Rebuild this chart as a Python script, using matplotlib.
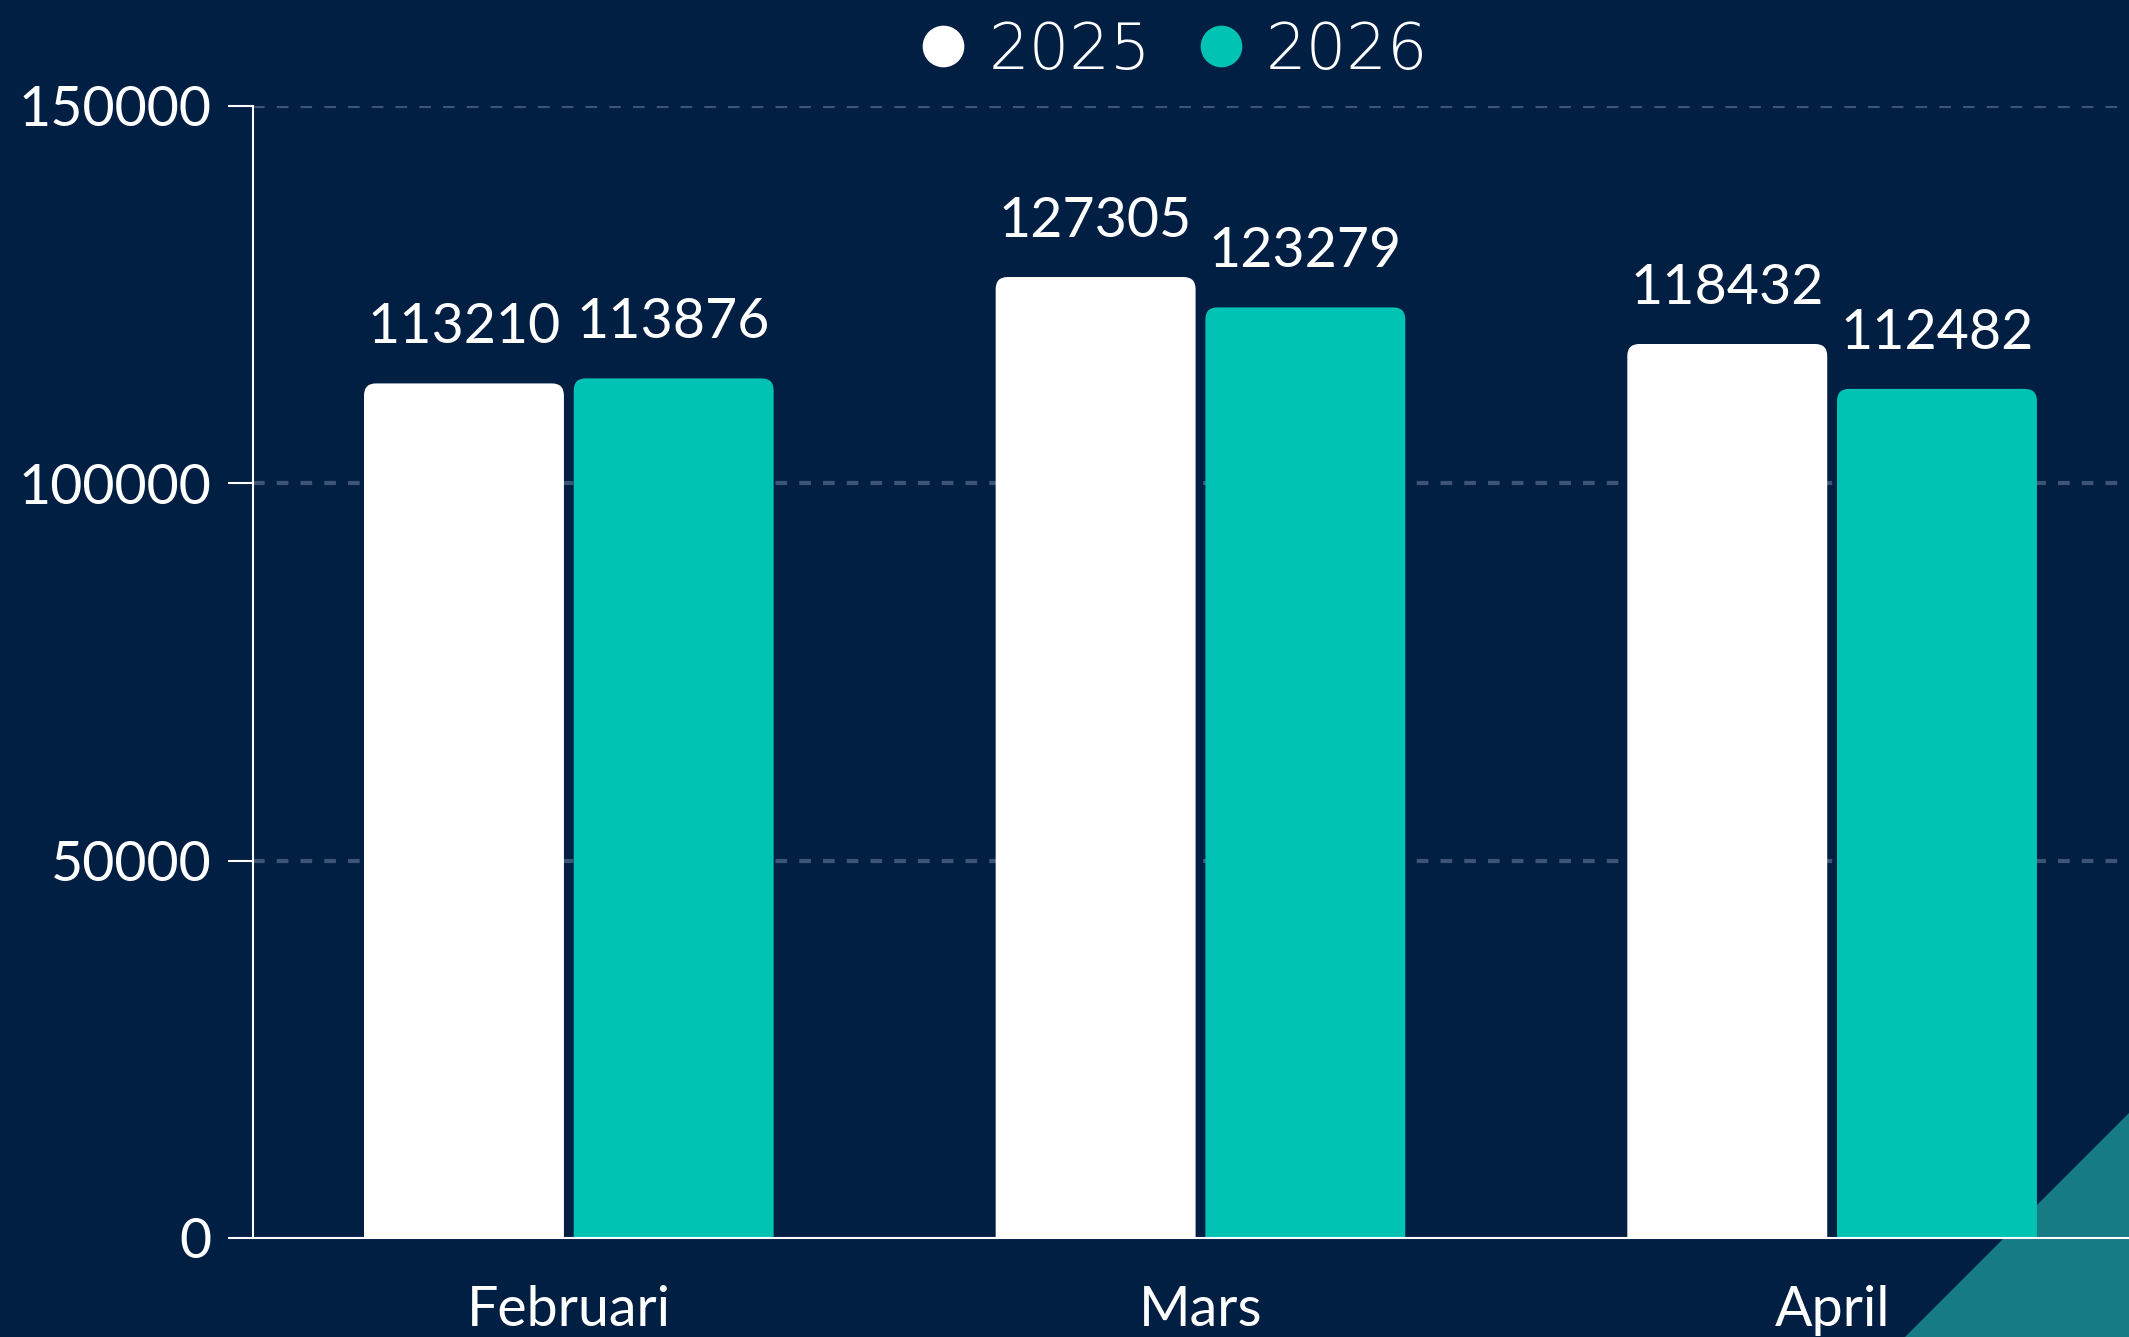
import matplotlib
matplotlib.use("Agg")
import matplotlib.pyplot as plt
import numpy as np
from matplotlib.patches import FancyBboxPatch, Polygon
from matplotlib.lines import Line2D

# Данные
months = ["Februari", "Mars", "April"]
series_names = ["2025", "2026"]
values_2025 = [113210, 127305, 118432]
values_2026 = [113876, 123279, 112482]

# Цвета
bg = "#011e43"
white = "#ffffff"
teal = "#00c3b3"
grid_col = "#3d5476"
corner_col = "#167b85"

plt.rcParams["font.family"] = ["Lato", "DejaVu Sans"]

fig = plt.figure(figsize=(21.29, 13.37), dpi=100, facecolor=bg)
ax = fig.add_axes([253 / 2129, 99 / 1337, 1 - 253 / 2129, 1132.3 / 1337])
ax.set_facecolor("none")

# Декоративный треугольник в правом нижнем углу (позади осей)
tri = Polygon([[1905 / 2129, 0], [1, 0], [1, 224 / 1337]], closed=True,
              transform=fig.transFigure, facecolor=corner_col, edgecolor="none", zorder=-1)
fig.patches.append(tri)

x = np.arange(len(months))
w = 0.3165
off = 0.166

bars1 = ax.bar(x - off, values_2025, w, color=white, zorder=3)
bars2 = ax.bar(x + off, values_2026, w, color=teal, zorder=3)

# Скругляем верхние углы столбцов
rx = 0.019
ry = 1600
for bars in (bars1, bars2):
    for b in bars:
        bx, by = b.get_x(), b.get_y()
        bw, bh = b.get_width(), b.get_height()
        b.set_visible(False)
        p = FancyBboxPatch((bx, by - ry * 2), bw, bh + ry * 2,
                           boxstyle="round,pad=0,rounding_size=%f" % rx,
                           mutation_aspect=ry / rx,
                           facecolor=b.get_facecolor(), edgecolor="none", zorder=3)
        ax.add_patch(p)
        ax.annotate(str(int(bh)), (bx + bw / 2, bh), xytext=(0, 29),
                    textcoords="offset points", ha="center", va="baseline",
                    color=white, fontsize=40, zorder=4)

ax.set_xlim(-0.5, 2.47)
ax.set_ylim(0, 150000)
ax.set_yticks([0, 50000, 100000, 150000])
ax.set_xticks(x)
ax.set_xticklabels(months)

ax.yaxis.grid(True, color=grid_col, linewidth=3, linestyle=(0, (2.8, 2.9)), zorder=0)
ax.set_axisbelow(True)
ax.yaxis.get_gridlines()[0].set_visible(False)

for s in ["top", "right"]:
    ax.spines[s].set_visible(False)
for s in ["left", "bottom"]:
    ax.spines[s].set_color(white)
    ax.spines[s].set_linewidth(1.5)
    ax.spines[s].set_zorder(5)

ax.tick_params(axis="y", colors=white, length=18, width=1.5, pad=12, labelsize=40)
ax.tick_params(axis="x", colors=white, length=0, pad=34, labelsize=40)

handles = [Line2D([], [], marker="o", ls="none", markersize=30, color=white, markeredgewidth=0),
           Line2D([], [], marker="o", ls="none", markersize=30, color=teal, markeredgewidth=0)]
leg = ax.legend(handles, series_names, loc="center", bbox_to_anchor=(0.551, 0.962),
                bbox_transform=fig.transFigure, ncol=2, frameon=False, borderpad=0,
                handlelength=0.8, handletextpad=0.3, columnspacing=0.7,
                prop={"family": "DejaVu Sans", "weight": "light", "size": 46})
for t in leg.get_texts():
    t.set_color(white)

fig.savefig("out.png", dpi=100, facecolor=bg)
